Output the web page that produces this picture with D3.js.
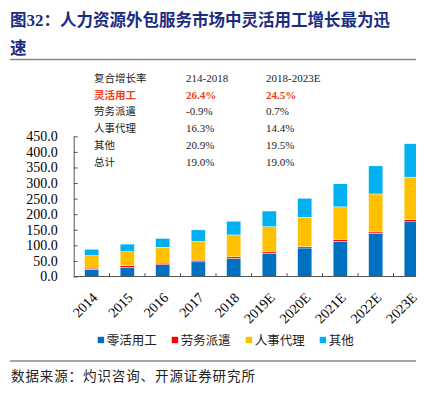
<!DOCTYPE html>
<html>
<head>
<meta charset="utf-8">
<script src="https://cdn.jsdelivr.net/npm/d3@7"></script>
<style>
  body { margin: 0; background: #fff; }
  svg { display: block; }
</style>
</head>
<body>
<div id="chart"></div>
<script>
// data
var years = ["2014", "2015", "2016", "2017", "2018", "2019E", "2020E", "2021E", "2022E", "2023E"];
var flexWork = [23, 29.5, 38, 47, 58, 74, 91.5, 113, 138, 175.5];
var dispatch = [4, 5, 5, 5.5, 5, 5, 4.5, 6, 5, 6.5];
var hrAgency = [40, 45, 51, 60, 70.5, 81, 94, 104.5, 122, 137];
var others = [20.5, 24.5, 28, 37, 44, 50, 61, 74, 90, 107];
var seriesNames = ["零活用工", "劳务派遣", "人事代理", "其他"];
var yTicks = [0, 50, 100, 150, 200, 250, 300, 350, 400, 450];

var tableHead = ["复合增长率", "214-2018", "2018-2023E"];
var tableNames = ["灵活用工", "劳务派遣", "人事代理", "其他", "总计"];
var cagrA = ["26.4%", "-0.9%", "16.3%", "20.9%", "19.0%"];
var cagrB = ["24.5%", "0.7%", "14.4%", "19.5%", "19.0%"];

var colors = ["#0070c0", "#ff0000", "#ffc000", "#00b0f0"];

var width = 442, height = 399;
var serif = "'Liberation Serif', 'Times New Roman', serif";
var cjk = "'Noto Sans CJK SC', sans-serif";

var svg = d3.select("#chart").append("svg")
    .attr("width", width)
    .attr("height", height);

// title
var title = svg.append("text")
    .attr("x", 10)
    .attr("y", 26)
    .attr("fill", "#1c2c80")
    .attr("font-weight", "bold")
    .style("font-family", cjk)
    .style("font-size", "16.5px");
title.append("tspan").text("图");
title.append("tspan").style("font-family", serif).style("font-size", "17px").text("32");
title.append("tspan").text("：人力资源外包服务市场中灵活用工增长最为迅");

svg.append("text")
    .attr("x", 10)
    .attr("y", 54)
    .attr("fill", "#1c2c80")
    .attr("font-weight", "bold")
    .style("font-family", cjk)
    .style("font-size", "16.5px")
    .text("速");

svg.append("line")
    .attr("x1", 10).attr("x2", 416)
    .attr("y1", 59.5).attr("y2", 59.5)
    .style("stroke", "#888")
    .style("stroke-width", 1.3);

// growth table
var colX = [94, 186, 266];
var rowY = function(i) { return 82 + i * 16.7; };

tableHead.forEach(function(t, j) {
    svg.append("text")
        .attr("x", colX[j])
        .attr("y", rowY(0))
        .attr("fill", "#222")
        .style("font-family", j == 0 ? cjk : serif)
        .style("font-size", j == 0 ? "10.5px" : "11px")
        .text(t);
});

tableNames.forEach(function(name, i) {
    var hot = i == 0;
    var c = hot ? "#f2401c" : "#222";
    var w = hot ? "bold" : "normal";
    svg.append("text")
        .attr("x", colX[0]).attr("y", rowY(i + 1))
        .attr("fill", c).attr("font-weight", w)
        .style("font-family", cjk).style("font-size", "10.5px")
        .text(name);
    svg.append("text")
        .attr("x", colX[1]).attr("y", rowY(i + 1))
        .attr("fill", c).attr("font-weight", w)
        .style("font-family", serif).style("font-size", "11px")
        .text(cagrA[i]);
    svg.append("text")
        .attr("x", colX[2]).attr("y", rowY(i + 1))
        .attr("fill", c).attr("font-weight", w)
        .style("font-family", serif).style("font-size", "11px")
        .text(cagrB[i]);
});

// scales
var x = d3.scaleBand()
    .domain(years)
    .range([74, 429])
    .paddingInner(0.6)
    .paddingOuter(0.3);

var y = d3.scaleLinear()
    .domain([0, 450])
    .range([276.5, 136.3]);

var rows = years.map(function(yr, i) {
    return { year: yr, s0: flexWork[i], s1: dispatch[i], s2: hrAgency[i], s3: others[i] };
});
var stack = d3.stack().keys(["s0", "s1", "s2", "s3"]);
var layers = stack(rows);

svg.append("clipPath")
    .attr("id", "plotClip")
    .append("rect")
    .attr("x", 74).attr("y", 100)
    .attr("width", 342).attr("height", 180);

var plot = svg.append("g").attr("clip-path", "url(#plotClip)");

plot.selectAll("g.layer")
    .data(layers)
    .enter().append("g")
    .attr("class", "layer")
    .attr("fill", function(d, i) { return colors[i]; })
    .selectAll("rect")
    .data(function(d) { return d; })
    .enter().append("rect")
    .attr("x", function(d) { return x(d.data.year); })
    .attr("width", x.bandwidth())
    .attr("y", function(d) { return y(d[1]); })
    .attr("height", function(d) { return y(d[0]) - y(d[1]); })
    .style("stroke", "#fff")
    .style("stroke-width", 0.4);

// y axis, ticks pointing into the plot
var yAxis = svg.append("g")
    .attr("transform", "translate(73.7,0)")
    .call(d3.axisLeft(y)
        .tickValues(yTicks)
        .tickSizeInner(-4)
        .tickSizeOuter(0)
        .tickPadding(16)
        .tickFormat(d3.format(".1f")));
yAxis.select(".domain").style("stroke", "#555");
yAxis.selectAll(".tick line").style("stroke", "#555");
yAxis.selectAll("text")
    .style("font-family", serif)
    .style("font-size", "14px")
    .attr("fill", "#000");

// x axis line and small separators between categories
svg.append("line")
    .attr("x1", 73.7).attr("x2", 416)
    .attr("y1", 276.5).attr("y2", 276.5)
    .style("stroke", "#555");

var step = x.step();
svg.selectAll("line.sep")
    .data(years.slice(1))
    .enter().append("line")
    .attr("class", "sep")
    .attr("x1", function(d) { return x(d) - step * 0.3; })
    .attr("x2", function(d) { return x(d) - step * 0.3; })
    .attr("y1", 276.5).attr("y2", 273)
    .style("stroke", "#555");

svg.selectAll("text.xlab")
    .data(years)
    .enter().append("text")
    .attr("class", "xlab")
    .attr("transform", function(d) {
        return "translate(" + (x(d) + x.bandwidth() / 2 + 3) + ",295) rotate(-45)";
    })
    .attr("text-anchor", "end")
    .attr("dy", "0.35em")
    .style("font-family", serif)
    .style("font-size", "14px")
    .text(function(d) { return d; });

// legend
var legend = svg.selectAll("g.legend")
    .data(seriesNames)
    .enter().append("g")
    .attr("class", "legend")
    .attr("transform", function(d, i) { return "translate(" + (97.7 + i * 74) + ",340)"; });

legend.append("rect")
    .attr("x", 0).attr("y", -3.2)
    .attr("width", 6.4).attr("height", 6.4)
    .attr("fill", function(d, i) { return colors[i]; });

legend.append("text")
    .attr("x", 9)
    .attr("dy", "0.36em")
    .style("font-family", cjk)
    .style("font-size", "12.5px")
    .attr("fill", "#222")
    .text(function(d) { return d; });

// footer
svg.append("line")
    .attr("x1", 10).attr("x2", 416)
    .attr("y1", 361).attr("y2", 361)
    .style("stroke", "#888")
    .style("stroke-width", 1.3);

svg.append("text")
    .attr("x", 11)
    .attr("y", 380.5)
    .style("font-family", cjk)
    .style("font-size", "13.5px")
    .style("letter-spacing", "0.9px")
    .attr("fill", "#222")
    .text("数据来源：灼识咨询、开源证券研究所");
</script>
</body>
</html>
